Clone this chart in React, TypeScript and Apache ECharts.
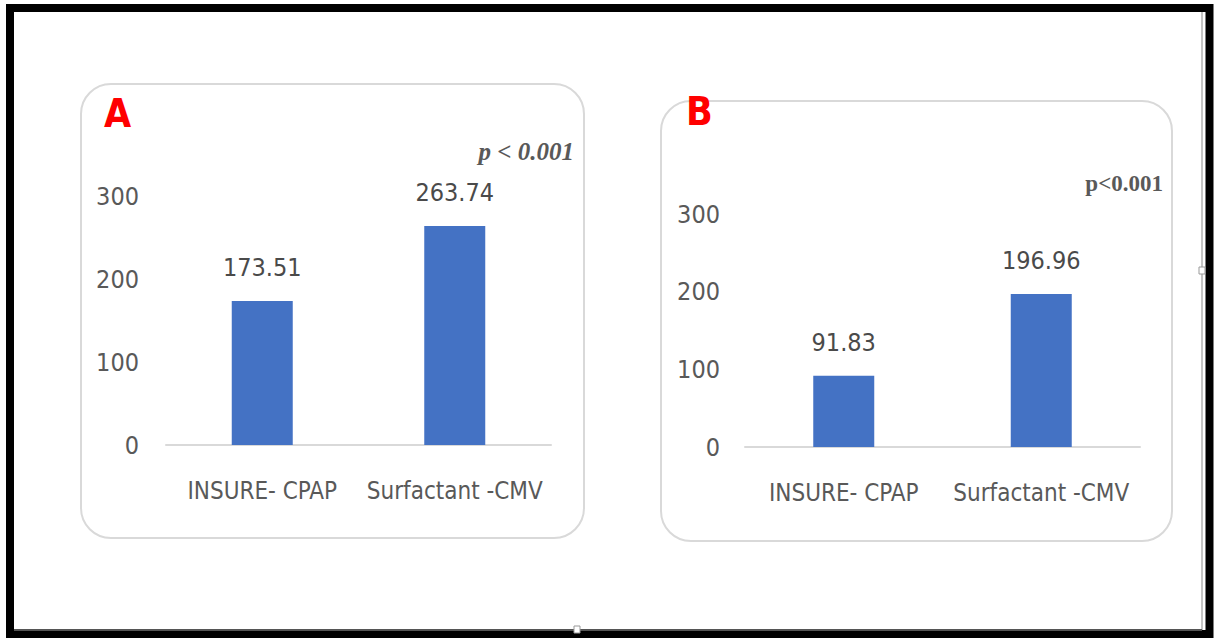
import React, { useEffect, useRef } from "react";
import * as echarts from "echarts";

const categories = ["INSURE- CPAP", "Surfactant -CMV"];
const valuesA = [173.51, 263.74];
const valuesB = [91.83, 196.96];
const yMin = 0;
const yMax = 300;
const yInterval = 100;
const panelLetters = ["A", "B"];
const pTexts = ["p < 0.001", "p<0.001"];

const NARROW = '"Liberation Sans Narrow", "DejaVu Sans Condensed", "Roboto Condensed", sans-serif';
const SERIF = '"Liberation Serif", "DejaVu Serif", serif';
const BAR = "#4472C4";
const TXT = "#595959";
const AXIS = "#D9D9D9";

export default function App() {
  const ref = useRef<HTMLDivElement>(null);
  useEffect(() => {
    if (!ref.current) return;
    const chart = echarts.init(ref.current, null, { renderer: "svg" });
    const xAxisBase = (gridIndex: number) => ({
      type: "category",
      gridIndex,
      data: categories,
      axisLine: { lineStyle: { color: AXIS, width: 2 } },
      axisTick: { show: false },
      axisLabel: { interval: 0, margin: 34, fontSize: 24, color: TXT, fontFamily: NARROW },
    });
    const yAxisBase = (gridIndex: number, margin: number) => ({
      type: "value",
      gridIndex,
      min: yMin,
      max: yMax,
      interval: yInterval,
      splitLine: { show: false },
      axisLine: { show: false },
      axisTick: { show: false },
      axisLabel: { margin, fontSize: 25, color: TXT, fontFamily: NARROW },
    });
    const barSeries = (idx: number, data: number[]) => ({
      type: "bar",
      xAxisIndex: idx,
      yAxisIndex: idx,
      data,
      barWidth: 61,
      itemStyle: { color: BAR },
      label: {
        show: true,
        position: "top",
        distance: 21,
        fontSize: 25,
        color: "#4a4a4a",
        fontFamily: NARROW,
        formatter: (p: any) => String(p.value),
      },
    });
    chart.setOption({
      animation: false,
      backgroundColor: "#ffffff",
      grid: [
        { left: 166, top: 196, width: 385, height: 249 },
        { left: 745, top: 214, width: 395, height: 233 },
      ],
      xAxis: [xAxisBase(0), xAxisBase(1)],
      yAxis: [yAxisBase(0, 27), yAxisBase(1, 25)],
      series: [barSeries(0, valuesA), barSeries(1, valuesB)],
      graphic: [
        {
          type: "rect",
          z: -10,
          shape: { x: 81, y: 84, width: 503, height: 454, r: 30 },
          style: { fill: "#fff", stroke: AXIS, lineWidth: 2 },
        },
        {
          type: "rect",
          z: -10,
          shape: { x: 661, y: 101, width: 511, height: 440, r: 30 },
          style: { fill: "#fff", stroke: AXIS, lineWidth: 2 },
        },
        {
          type: "rect",
          z: 10,
          shape: { x: 10, y: 8, width: 1199.5, height: 626 },
          style: { fill: "none", stroke: "#000", lineWidth: 8 },
        },
        {
          type: "line",
          z: 10,
          shape: { x1: 1202, y1: 12, x2: 1202, y2: 630 },
          style: { stroke: "#888", lineWidth: 1 },
        },
        {
          type: "line",
          z: 10,
          shape: { x1: 14, y1: 630, x2: 1202, y2: 630 },
          style: { stroke: "#555", lineWidth: 2 },
        },
        {
          type: "rect",
          z: 11,
          shape: { x: 574, y: 626, width: 6, height: 7 },
          style: { fill: "#fff", stroke: "#999", lineWidth: 1 },
        },
        {
          type: "rect",
          z: 11,
          shape: { x: 1199, y: 267, width: 6, height: 7 },
          style: { fill: "#fff", stroke: "#999", lineWidth: 1 },
        },
        {
          type: "text",
          z: 12,
          x: 104,
          y: 113,
          style: {
            text: panelLetters[0],
            fill: "#FF0000",
            font: `bold 39px ${NARROW}`,
            textVerticalAlign: "middle",
          },
        },
        {
          type: "text",
          z: 12,
          x: 686,
          y: 111,
          style: {
            text: panelLetters[1],
            fill: "#FF0000",
            font: `bold 39px ${NARROW}`,
            textVerticalAlign: "middle",
          },
        },
        {
          type: "text",
          z: 12,
          x: 574,
          y: 151,
          style: {
            text: pTexts[0],
            fill: TXT,
            font: `italic bold 25px ${SERIF}`,
            textAlign: "right",
            textVerticalAlign: "middle",
          },
        },
        {
          type: "text",
          z: 12,
          x: 1163,
          y: 183,
          style: {
            text: pTexts[1],
            fill: TXT,
            font: `bold 23px ${SERIF}`,
            textAlign: "right",
            textVerticalAlign: "middle",
          },
        },
      ],
    });
    return () => chart.dispose();
  }, []);
  return (
    <div
      ref={ref}
      style={{ position: "fixed", left: 0, top: 0, width: 1219, height: 639 }}
    />
  );
}
